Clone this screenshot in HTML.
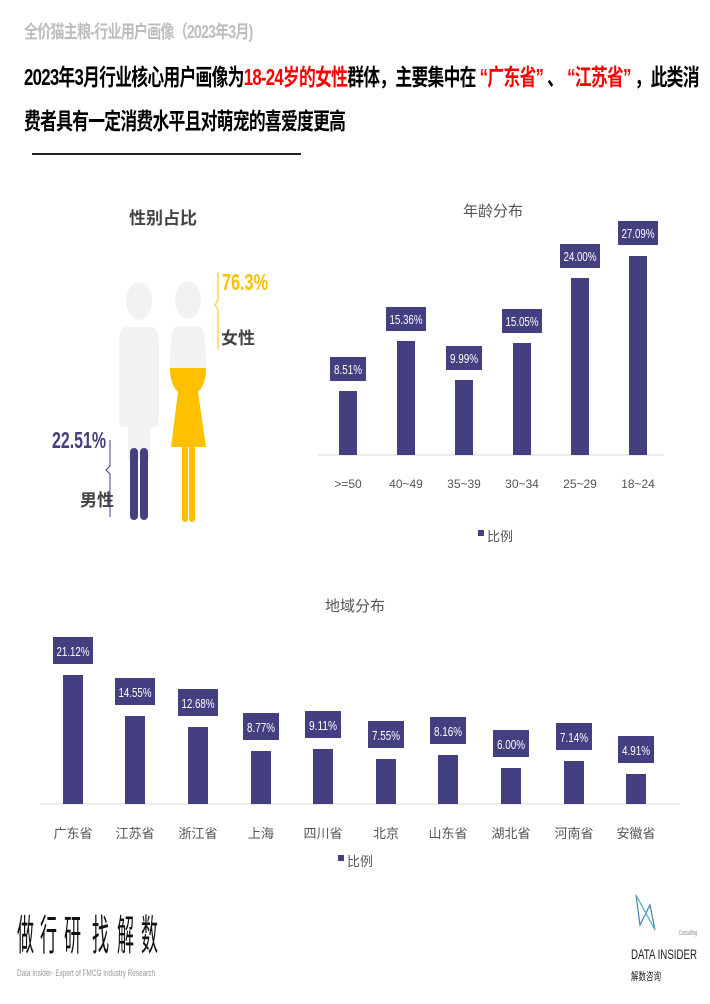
<!DOCTYPE html>
<html><head><meta charset="utf-8"><style>
body{margin:0;width:710px;height:1004px;background:#fff;position:relative;overflow:hidden;font-family:"Liberation Sans","Noto Sans CJK SC",sans-serif}
.a{position:absolute;white-space:nowrap}
.t{font-weight:bold;font-size:23px;color:#000;letter-spacing:-1px;transform:scaleX(.73);transform-origin:left}
</style></head><body>
<div class="a" style="left:24px;top:18px;font-size:18px;font-weight:bold;color:#bdbdbd;letter-spacing:-1px;transform:scaleX(.78);transform-origin:left">全价猫主粮-行业用户画像（2023年3月)</div>
<div class="a t" style="left:24px;top:58px">2023年3月行业核心用户画像为<span style="color:#f00">18-24岁的女性</span>群体，主要集中在 <span style="color:#f00">“广东省”</span> 、 <span style="color:#f00">“江苏省”</span> ，此类消</div>
<div class="a t" style="left:24px;top:102px">费者具有一定消费水平且对萌宠的喜爱度更高</div>
<div class="a" style="left:32px;top:153px;width:269px;height:2px;background:#222"></div>

<svg class="a" style="left:0;top:0" width="710" height="1004">
<g font-family="Liberation Sans, Noto Sans CJK SC, sans-serif">
<text x="163" y="224" font-size="17" font-weight="bold" fill="#444" text-anchor="middle">性别占比</text>
<ellipse cx="139" cy="301" rx="13" ry="19" fill="#f2f2f2"/>
<path d="M126 327 H152 Q158 327 159 340 V420 Q159 427 154 427 H124 Q119 427 119 420 V340 Q120 327 126 327Z" fill="#f2f2f2"/>
<rect x="128" y="420" width="22" height="40" fill="#f2f2f2"/>
<rect x="130" y="448" width="8" height="72" rx="4" fill="#443f81"/>
<rect x="140" y="448" width="8" height="72" rx="4" fill="#443f81"/>
<ellipse cx="188" cy="300" rx="13" ry="19" fill="#f2f2f2"/>
<path d="M176 326 H200 Q206 330 206 368 H170 Q170 330 176 326Z" fill="#f2f2f2"/>
<path d="M170 368 H206 Q206 385 198 392 L206 447 H171 L178 392 Q170 385 170 368Z" fill="#ffc000"/>
<rect x="182" y="445" width="6" height="77" rx="3" fill="#ffc000"/>
<rect x="189" y="445" width="6" height="77" rx="3" fill="#ffc000"/>
<path d="M218 272 V300 L215 305 L218 309 V349" stroke="#ffc000" fill="none"/>
<text x="222" y="290" font-size="23" font-weight="bold" fill="#ffc000" textLength="46" lengthAdjust="spacingAndGlyphs">76.3%</text>
<text x="221" y="344" font-size="17" font-weight="bold" fill="#444">女性</text>
<path d="M110 440 V466 L106 470 L110 474 V517" stroke="#443f81" fill="none"/>
<text x="52" y="448" font-size="23" font-weight="bold" fill="#443f81" textLength="54" lengthAdjust="spacingAndGlyphs">22.51%</text>
<text x="80" y="506" font-size="17" font-weight="bold" fill="#444">男性</text>

<text x="493" y="216" font-size="15" fill="#555" text-anchor="middle">年龄分布</text>
<line x1="318" y1="455" x2="664" y2="455" stroke="#d9d9d9"/>
<g fill="#443f81">
<rect x="339" y="391" width="18" height="64"/><rect x="397" y="341" width="18" height="114"/><rect x="455" y="380" width="18" height="75"/>
<rect x="513" y="343" width="18" height="112"/><rect x="571" y="278" width="18" height="177"/><rect x="629" y="256" width="18" height="199"/>
<rect x="330" y="357" width="36" height="24"/><rect x="386" y="307" width="40" height="24"/><rect x="446" y="346" width="36" height="24"/>
<rect x="502" y="309" width="40" height="24"/><rect x="560" y="244" width="40" height="24"/><rect x="618" y="221" width="40" height="24"/>
</g>
<g fill="#fff" font-size="13" text-anchor="middle">
<text x="348" y="374" textLength="28" lengthAdjust="spacingAndGlyphs">8.51%</text><text x="406" y="324" textLength="33" lengthAdjust="spacingAndGlyphs">15.36%</text><text x="464" y="363" textLength="28" lengthAdjust="spacingAndGlyphs">9.99%</text>
<text x="522" y="326" textLength="33" lengthAdjust="spacingAndGlyphs">15.05%</text><text x="580" y="261" textLength="33" lengthAdjust="spacingAndGlyphs">24.00%</text><text x="638" y="238" textLength="33" lengthAdjust="spacingAndGlyphs">27.09%</text>
</g>
<g fill="#555" font-size="12" text-anchor="middle">
<text x="348" y="488">&gt;=50</text><text x="406" y="488">40~49</text><text x="464" y="488">35~39</text>
<text x="522" y="488">30~34</text><text x="580" y="488">25~29</text><text x="638" y="488">18~24</text>
</g>
<rect x="478" y="530" width="6" height="6" fill="#443f81"/><text x="487" y="541" font-size="13" fill="#555">比例</text>

<text x="355" y="611" font-size="15" fill="#555" text-anchor="middle">地域分布</text>
<line x1="40" y1="804" x2="679" y2="804" stroke="#d9d9d9"/>
<g fill="#443f81">
<rect x="63" y="675" width="20" height="129"/><rect x="125" y="716" width="20" height="88"/><rect x="188" y="727" width="20" height="77"/>
<rect x="251" y="751" width="20" height="53"/><rect x="313" y="749" width="20" height="55"/><rect x="376" y="759" width="20" height="45"/>
<rect x="438" y="755" width="20" height="49"/><rect x="501" y="768" width="20" height="36"/><rect x="564" y="761" width="20" height="43"/>
<rect x="626" y="774" width="20" height="30"/>
<rect x="53" y="637" width="40" height="27"/><rect x="115" y="678" width="40" height="27"/><rect x="178" y="689" width="40" height="27"/>
<rect x="243" y="713" width="36" height="27"/><rect x="305" y="711" width="36" height="27"/><rect x="368" y="721" width="36" height="27"/>
<rect x="430" y="717" width="36" height="27"/><rect x="493" y="730" width="36" height="27"/><rect x="556" y="723" width="36" height="27"/>
<rect x="618" y="736" width="36" height="27"/>
</g>
<g fill="#fff" font-size="13" text-anchor="middle">
<text x="73" y="656" textLength="33" lengthAdjust="spacingAndGlyphs">21.12%</text><text x="135" y="697" textLength="33" lengthAdjust="spacingAndGlyphs">14.55%</text><text x="198" y="708" textLength="33" lengthAdjust="spacingAndGlyphs">12.68%</text>
<text x="261" y="732" textLength="28" lengthAdjust="spacingAndGlyphs">8.77%</text><text x="323" y="730" textLength="28" lengthAdjust="spacingAndGlyphs">9.11%</text><text x="386" y="740" textLength="28" lengthAdjust="spacingAndGlyphs">7.55%</text>
<text x="448" y="736" textLength="28" lengthAdjust="spacingAndGlyphs">8.16%</text><text x="511" y="749" textLength="28" lengthAdjust="spacingAndGlyphs">6.00%</text><text x="574" y="742" textLength="28" lengthAdjust="spacingAndGlyphs">7.14%</text><text x="636" y="755" textLength="28" lengthAdjust="spacingAndGlyphs">4.91%</text>
</g>
<g fill="#555" font-size="13" text-anchor="middle">
<text x="73" y="838">广东省</text><text x="135" y="838">江苏省</text><text x="198" y="838">浙江省</text><text x="261" y="838">上海</text>
<text x="323" y="838">四川省</text><text x="386" y="838">北京</text><text x="448" y="838">山东省</text><text x="511" y="838">湖北省</text>
<text x="574" y="838">河南省</text><text x="636" y="838">安徽省</text>
</g>
<rect x="338" y="855" width="6" height="6" fill="#443f81"/><text x="347" y="866" font-size="13" fill="#555">比例</text>

<g fill="#111" font-size="42">
<text x="17" y="950" textLength="17" lengthAdjust="spacingAndGlyphs">做</text>
<text x="40" y="950" textLength="17" lengthAdjust="spacingAndGlyphs">行</text>
<text x="64" y="950" textLength="17" lengthAdjust="spacingAndGlyphs">研</text>
<text x="92" y="950" textLength="17" lengthAdjust="spacingAndGlyphs">找</text>
<text x="117" y="950" textLength="17" lengthAdjust="spacingAndGlyphs">解</text>
<text x="141" y="950" textLength="17" lengthAdjust="spacingAndGlyphs">数</text>
</g>
<text x="17" y="976" font-size="9" fill="#999" textLength="138" lengthAdjust="spacingAndGlyphs">Data Insider- Expert of FMCG Industry Research</text>
<path d="M636 895 L640 925 L650 905 L655 930 Z" stroke="#4a7fb5" fill="none" stroke-width="1.2"/>
<path d="M636 895 L655 930" stroke="#5ac0c0" stroke-width="1.2"/>
<text x="679" y="935" font-size="7" fill="#888" textLength="18" lengthAdjust="spacingAndGlyphs">Consulting</text>
<text x="631" y="959" font-size="14" fill="#222" textLength="66" lengthAdjust="spacingAndGlyphs">DATA INSIDER</text>
<text x="631" y="980" font-size="11" fill="#222" textLength="30" lengthAdjust="spacingAndGlyphs">解数咨询</text>
</g></svg>
</body></html>
